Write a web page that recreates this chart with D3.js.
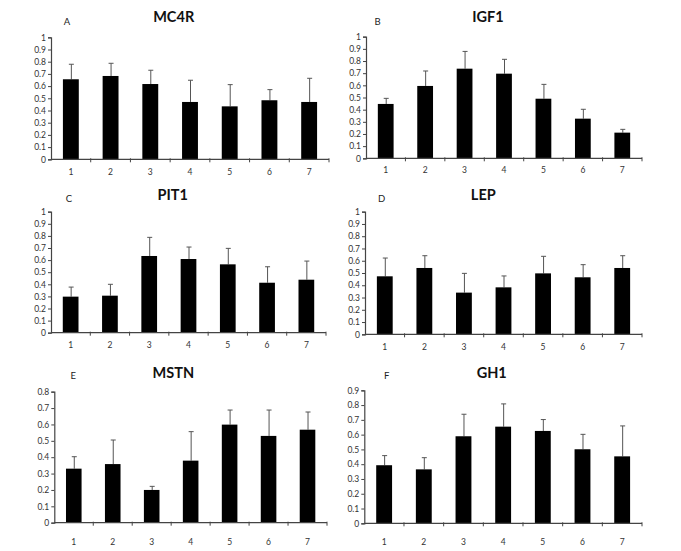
<!DOCTYPE html>
<html>
<head>
<meta charset="utf-8">
<script src="https://cdn.jsdelivr.net/npm/d3@7"></script>
<style>
  html, body { margin: 0; padding: 0; background: #fff; }
  svg { display: block; }
</style>
</head>
<body>
<svg id="chart" width="681" height="551"></svg>
<script>
// ---- data ----
const categories = ["1", "2", "3", "4", "5", "6", "7"];

const genes = ["MC4R", "IGF1", "PIT1", "LEP", "MSTN", "GH1"];
const panelLetters = ["A", "B", "C", "D", "E", "F"];

const mc4rMean = [0.656, 0.683, 0.617, 0.470, 0.434, 0.484, 0.470];
const mc4rErr  = [0.123, 0.104, 0.113, 0.178, 0.178, 0.087, 0.194];

const igf1Mean = [0.447, 0.595, 0.737, 0.696, 0.490, 0.326, 0.211];
const igf1Err  = [0.046, 0.123, 0.142, 0.118, 0.118, 0.077, 0.027];

const pit1Mean = [0.298, 0.306, 0.634, 0.609, 0.565, 0.413, 0.438];
const pit1Err  = [0.079, 0.094, 0.154, 0.099, 0.132, 0.132, 0.154];

const lepMean  = [0.473, 0.541, 0.340, 0.383, 0.497, 0.465, 0.541];
const lepErr   = [0.149, 0.100, 0.157, 0.093, 0.139, 0.103, 0.100];

const mstnMean = [0.330, 0.358, 0.200, 0.379, 0.599, 0.530, 0.568];
const mstnErr  = [0.073, 0.147, 0.022, 0.177, 0.089, 0.158, 0.108];

const gh1Mean  = [0.393, 0.365, 0.589, 0.654, 0.625, 0.501, 0.453];
const gh1Err   = [0.065, 0.079, 0.149, 0.154, 0.077, 0.101, 0.206];

const yMaxes = [1.0, 1.0, 1.0, 1.0, 0.8, 0.9];
const yTickStep = 0.1;

const means = [mc4rMean, igf1Mean, pit1Mean, lepMean, mstnMean, gh1Mean];
const errs  = [mc4rErr, igf1Err, pit1Err, lepErr, mstnErr, gh1Err];

// ---- layout (positions only) ----
const layouts = [
  { x0: 51,    x1: 329, yTop: 37.3,  y0: 159.3, titleX: 173.7, titleY: 22.3, letterX: 67,    letterY: 24.5, labelDy: 12.5 },
  { x0: 366,   x1: 642, yTop: 36.7,  y0: 158.3, titleX: 488,   titleY: 22.3, letterX: 377.5, letterY: 24.5, labelDy: 12 },
  { x0: 51,    x1: 326, yTop: 211.7, y0: 332.7, titleX: 172.7, titleY: 200,  letterX: 69,    letterY: 201.5, labelDy: 12.5 },
  { x0: 365,   x1: 642, yTop: 211.7, y0: 334.3, titleX: 483.3, titleY: 199.5,letterX: 381.7, letterY: 201.5, labelDy: 12.5 },
  { x0: 54.3,  x1: 327, yTop: 391.7, y0: 522.7, titleX: 173.3, titleY: 378.3,letterX: 73.3,  letterY: 378.5, labelDy: 19 },
  { x0: 364.3, x1: 642, yTop: 390.3, y0: 523.3, titleX: 491.7, titleY: 378.3,letterX: 386.7, letterY: 378.5, labelDy: 19 }
];

const svg = d3.select("#chart");
const fontFam = "Lato, 'Open Sans', sans-serif";

genes.forEach((gene, gi) => {
  const L = layouts[gi];
  const g = svg.append("g");

  const x = d3.scaleBand()
    .domain(categories)
    .range([L.x0, L.x1])
    .paddingInner(0.6)
    .paddingOuter(0.3);

  const y = d3.scaleLinear()
    .domain([0, yMaxes[gi]])
    .range([L.y0, L.yTop]);

  const data = categories.map((c, i) => ({ c, m: means[gi][i], e: errs[gi][i] }));

  // error bars (upper only)
  const eg = g.append("g").attr("stroke", "#555").attr("stroke-width", 1);
  eg.selectAll("line.v").data(data).enter().append("line")
    .attr("x1", d => x(d.c) + x.bandwidth() / 2 + 0.5)
    .attr("x2", d => x(d.c) + x.bandwidth() / 2 + 0.5)
    .attr("y1", d => y(d.m))
    .attr("y2", d => y(d.m + d.e));
  eg.selectAll("line.cap").data(data).enter().append("line")
    .attr("x1", d => x(d.c) + x.bandwidth() / 2 - 2)
    .attr("x2", d => x(d.c) + x.bandwidth() / 2 + 3)
    .attr("y1", d => y(d.m + d.e))
    .attr("y2", d => y(d.m + d.e));

  // bars
  g.selectAll("rect.bar").data(data).enter().append("rect")
    .attr("x", d => x(d.c))
    .attr("width", x.bandwidth())
    .attr("y", d => y(d.m))
    .attr("height", d => y(0) - y(d.m))
    .attr("fill", "#000");

  // y axis
  const nTicks = Math.round(yMaxes[gi] / yTickStep);
  const yTicks = d3.range(0, nTicks + 1).map(i => +(i * yTickStep).toFixed(1));
  const yAxis = d3.axisLeft(y)
    .tickValues(yTicks)
    .tickSize(3)
    .tickPadding(2)
    .tickFormat(d => d === 0 ? "0" : d === 1 ? "1" : d3.format(".1f")(d));
  const ya = g.append("g")
    .attr("transform", `translate(${L.x0},0)`)
    .call(yAxis);
  ya.select(".domain").attr("stroke", "#444").attr("stroke-width", 1.2);
  ya.selectAll(".tick line").attr("stroke", "#444");
  ya.selectAll(".tick text")
    .attr("fill", "#333")
    .style("font-family", fontFam)
    .style("font-size", "8.5px");

  // x axis line
  g.append("line")
    .attr("x1", L.x0).attr("x2", L.x1)
    .attr("y1", y(0)).attr("y2", y(0))
    .attr("stroke", "#444").attr("stroke-width", 1.2);

  // x boundary ticks
  const step = x.step();
  const r0 = x.range()[0];
  const bounds = d3.range(1, categories.length + 1).map(i => r0 + i * step);
  g.selectAll("line.xt").data(bounds).enter().append("line")
    .attr("x1", d => d).attr("x2", d => d)
    .attr("y1", y(0) - 1).attr("y2", y(0) + 3)
    .attr("stroke", "#444");

  // x labels
  g.selectAll("text.xl").data(categories).enter().append("text")
    .attr("x", d => x(d) + x.bandwidth() / 2)
    .attr("y", y(0) + L.labelDy + 3)
    .attr("text-anchor", "middle")
    .attr("fill", "#333")
    .style("font-family", fontFam)
    .style("font-size", "8.5px")
    .text(d => d);

  // title
  g.append("text")
    .attr("x", L.titleX)
    .attr("y", L.titleY)
    .attr("text-anchor", "middle")
    .attr("fill", "#111")
    .style("font-family", fontFam)
    .style("font-weight", "bold")
    .style("font-size", "14.5px")
    .text(gene);

  // panel letter
  g.append("text")
    .attr("x", L.letterX)
    .attr("y", L.letterY)
    .attr("text-anchor", "middle")
    .attr("fill", "#222")
    .style("font-family", fontFam)
    .style("font-size", "9.5px")
    .text(panelLetters[gi]);
});
</script>
</body>
</html>
